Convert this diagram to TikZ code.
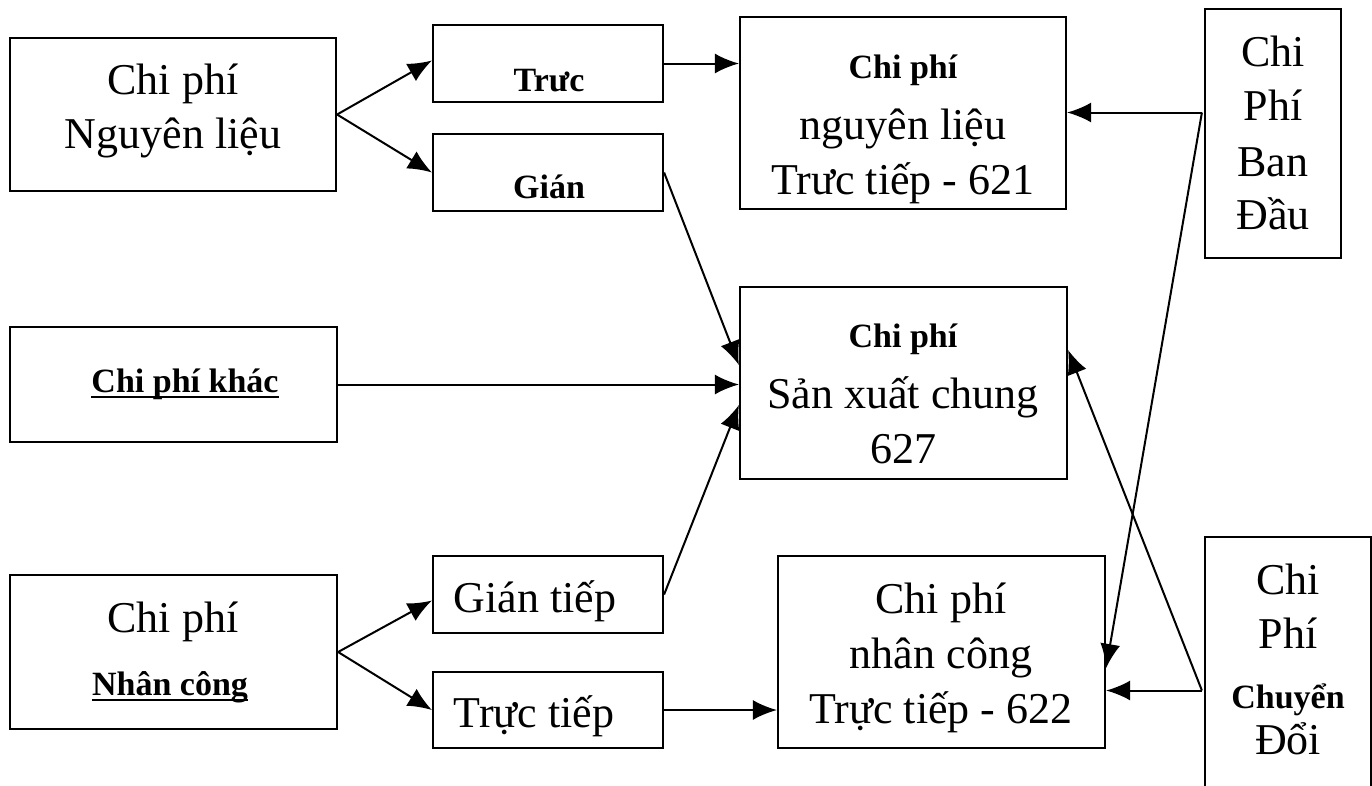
\documentclass[tikz,border=0pt]{standalone}
\usepackage{fontspec}
\setmainfont{Liberation Serif}
\usetikzlibrary{arrows.meta,calc}
\newcommand\myul[1]{\setbox0\hbox{#1}\rlap{\raisebox{-5.5pt}{\rule{\wd0}{2pt}}}\box0}
\newcommand\rg{\fontsize{44}{50}\selectfont}
\newcommand\bd{\fontsize{34}{40}\selectfont\bfseries}
\begin{document}
\begin{tikzpicture}[x=1pt,y=-1pt,
  box/.style={draw, line width=2.2pt, inner sep=0pt, rectangle},
  txt/.style={anchor=base, inner sep=0pt, font=\rg},
  btxt/.style={anchor=base, inner sep=0pt, font=\bd},
  arr/.style={line width=2pt, -{Latex[length=24pt,width=20pt]}}]
\useasboundingbox (0,0) rectangle (1372,785);
\clip (0,0) rectangle (1372,785);
% boxes
\node[box, minimum width=326pt, minimum height=153pt] (ngl) at (173,114.5) {};
\node[box, minimum width=230pt, minimum height=77pt] (truc) at (548,63.5) {};
\node[box, minimum width=230pt, minimum height=77pt] (gian) at (548,172.5) {};
\node[box, minimum width=326pt, minimum height=192pt] (c621) at (903,113) {};
\node[box, minimum width=136pt, minimum height=249pt] (bdau) at (1273,133.5) {};
\node[box, minimum width=327pt, minimum height=115pt] (khac) at (173.5,384.5) {};
\node[box, minimum width=327pt, minimum height=192pt] (sxc) at (903.5,383) {};
\node[box, minimum width=327pt, minimum height=154pt] (nc) at (173.5,652) {};
\node[box, minimum width=230pt, minimum height=77pt] (gt) at (548,594.5) {};
\node[box, minimum width=230pt, minimum height=76pt] (tt) at (548,710) {};
\node[box, minimum width=327pt, minimum height=192pt] (ncz) at (941.5,652) {};
\node[box, minimum width=166pt, minimum height=263pt] (cd) at (1288,668.5) {};
% texts
\node[txt] (t1a) at (173,94) {Chi phí};
\node[txt] (t1b) at (173,148) {Nguyên liệu};
\node[btxt] (t2) at (549,91) {Trưc};
\node[btxt] (t3) at (549,198) {Gián};
\node[btxt] (t4a) at (903,78) {Chi phí};
\node[txt] (t4b) at (903,139) {nguyên liệu};
\node[txt] (t4c) at (903,194) {Trưc tiếp - 621};
\node[txt] (t5a) at (1273,66) {Chi};
\node[txt] (t5b) at (1273,120) {Phí};
\node[txt] (t5c) at (1273,176) {Ban};
\node[txt] (t5d) at (1273,229) {Đầu};
\node[btxt] (t6) at (185,392) {\myul{Chi phí khác}};
\node[btxt] (t7a) at (903,347) {Chi phí};
\node[txt] (t7b) at (903,408) {Sản xuất chung};
\node[txt] (t7c) at (903,463) {627};
\node[txt] (t8a) at (173,632) {Chi phí};
\node[btxt] (t8b) at (170,695) {\myul{Nhân công}};
\node[txt] (t9) at (535,612) {Gián tiếp};
\node[txt] (t10) at (534,727) {Trực tiếp};
\node[txt] (t11a) at (941,613) {Chi phí};
\node[txt] (t11b) at (941,668) {nhân công};
\node[txt] (t11c) at (941,723) {Trực tiếp - 622};
\node[txt] (t12a) at (1288,594) {Chi};
\node[txt] (t12b) at (1288,648) {Phí};
\node[btxt] (t12c) at (1288,708) {Chuyển};
\node[txt] (t12d) at (1288,754) {Đổi};
% connectors
\draw[arr] (ngl.east) -- ($(truc.west)+(0,-3)$);
\draw[arr] (ngl.east) -- (gian.west);
\draw[arr] (truc.east) -- (truc.east -| c621.west);
\draw[arr] (gian.east) -- ($(sxc.west)+(0,-18)$);
\draw[arr] (khac.east) -- (khac.east -| sxc.west);
\draw[arr] (gt.east) -- ($(sxc.west)+(0,22)$);
\draw[arr] (nc.east) -- ($(gt.west)+(0,6)$);
\draw[arr] (nc.east) -- (tt.west);
\draw[arr] (tt.east) -- (tt.east -| ncz.west);
\coordinate (bdp) at ($(bdau.west)+(-2,-21)$);
\draw[arr] (bdp) -- (bdp -| c621.east);
\draw[arr] (bdp) -- ($(ncz.east)+(0,16)$);
\coordinate (cdp) at ($(cd.west)+(-2,22)$);
\draw[arr] (cdp) -- (cdp -| ncz.east);
\draw[arr] (cdp) -- ($(sxc.east)+(0,-33)$);
\end{tikzpicture}
\end{document}
